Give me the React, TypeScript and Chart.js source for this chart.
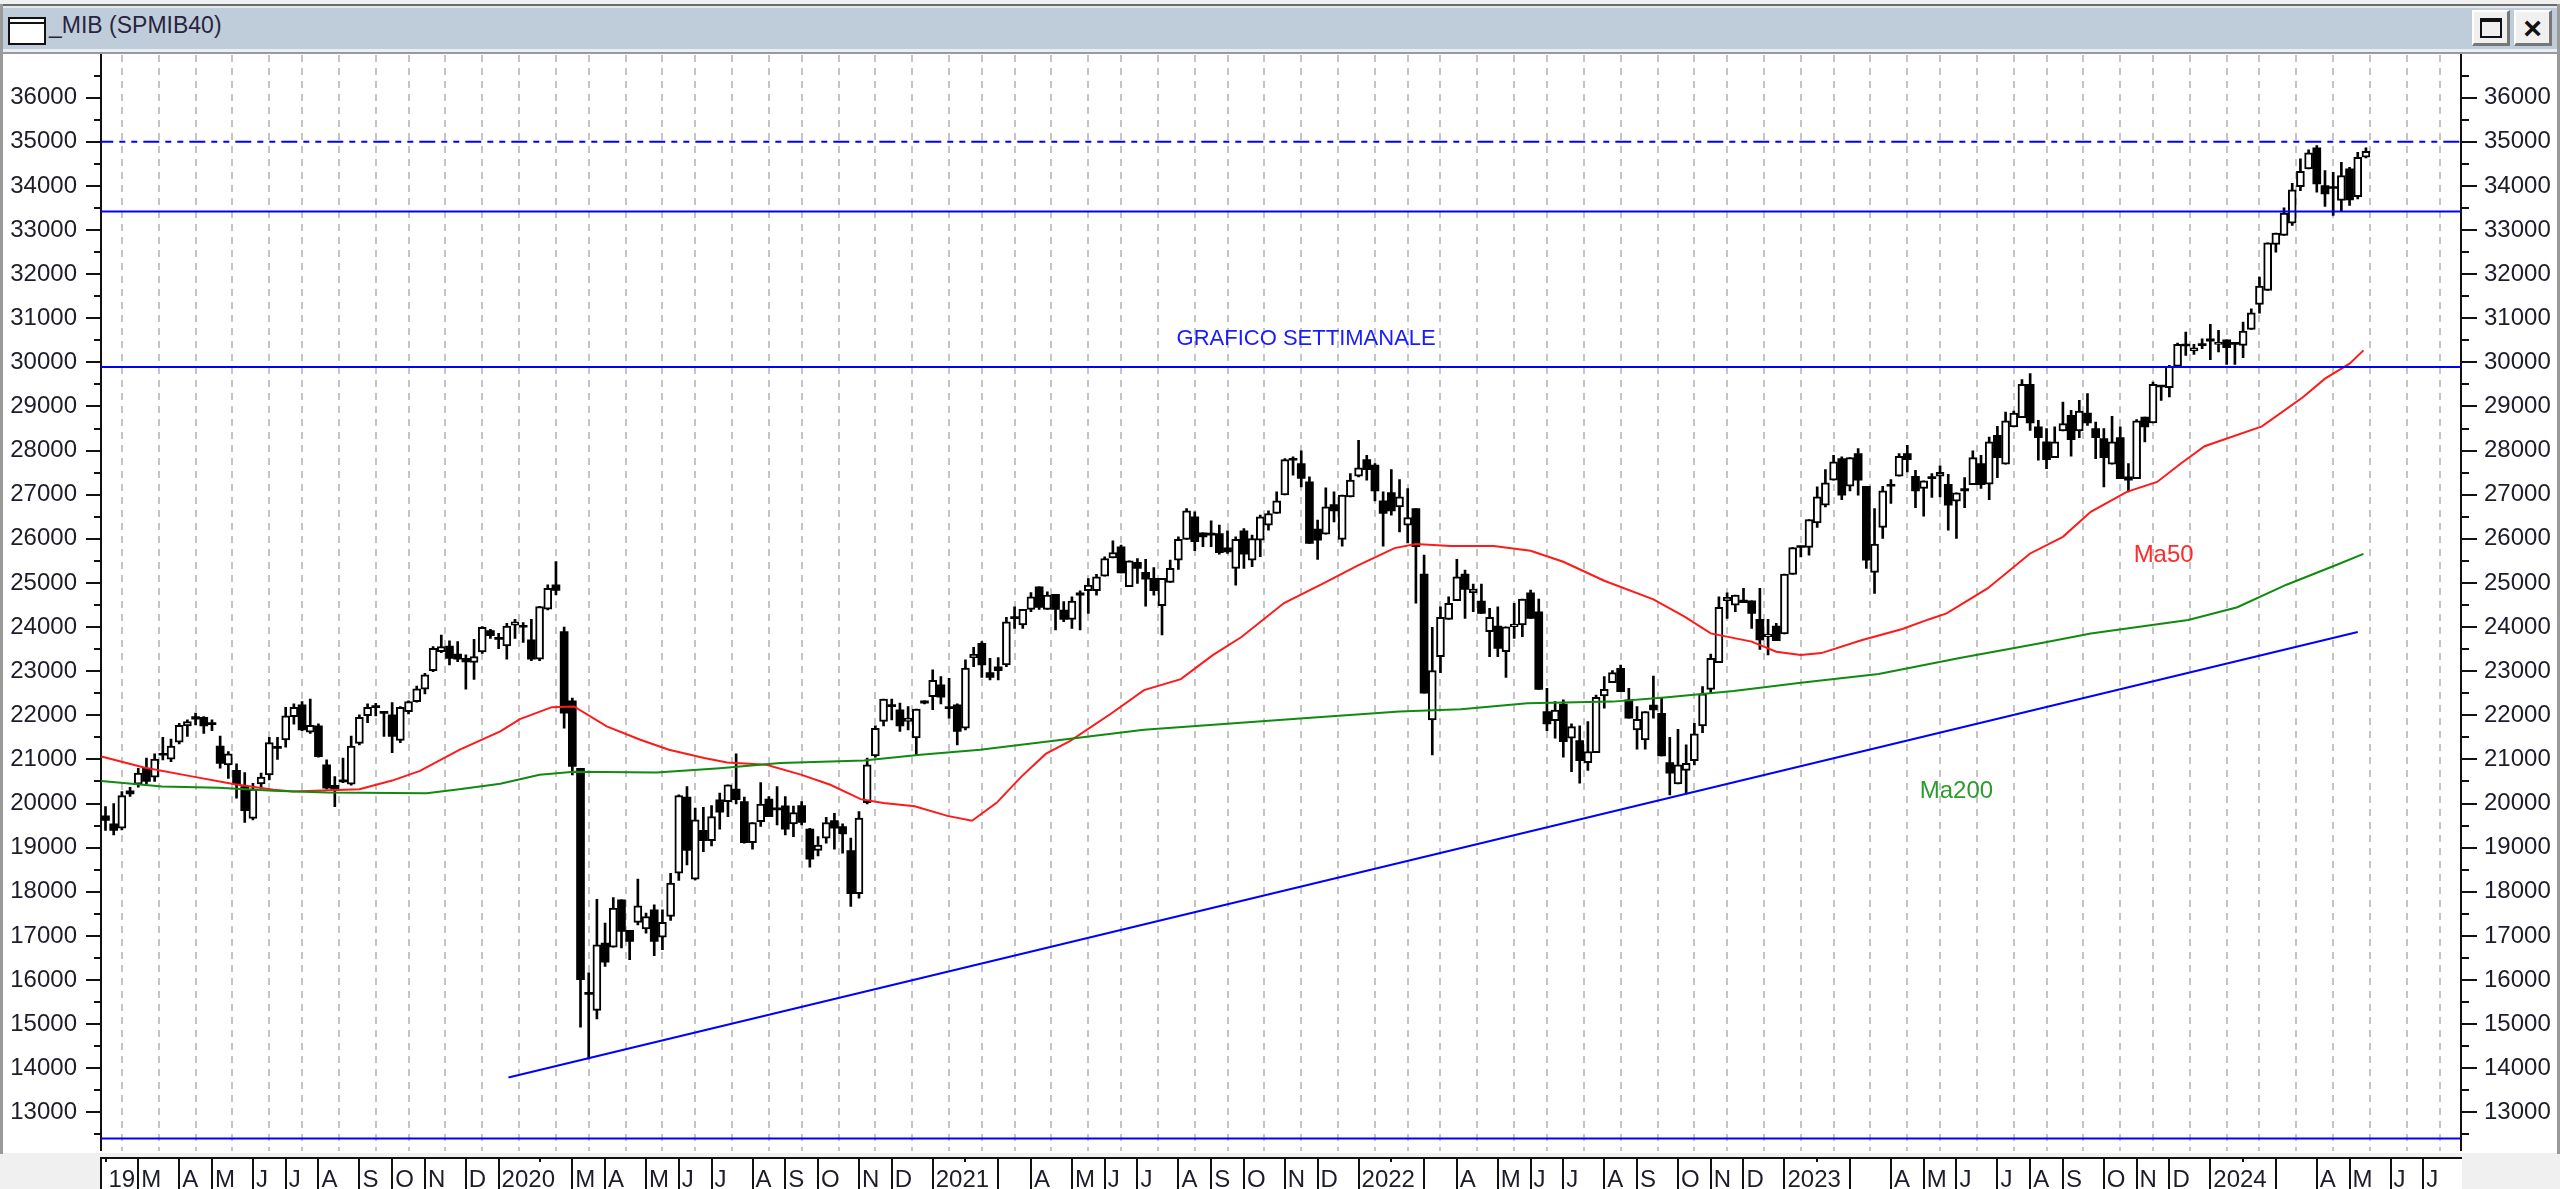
import React, { useEffect, useRef } from "react";
import { Chart, registerables } from "chart.js";

Chart.register(...registerables);

// Weekly candles: [open, high, low, close]
const weeks2019 = [
  [19720,19930,19390,19615],[19540,20000,19290,19390],[19440,20270,19400,20180],[20290,20370,20160,20220],
  [20440,20800,20370,20690],[20800,21030,20445,20500],[20600,21125,20500,21010],[21125,21500,20990,21095],
  [21005,21460,20950,21300],[21390,21820,21350,21770],[21760,21900,21520,21860],[21970,22050,21780,21910],
  [21955,21970,21590,21760],[21820,21895,21650,21790],[21305,21530,20800,20910],[20875,21180,20570,21125],
  [20750,20900,20120,20445],[20385,20700,19570,19840],[19660,20460,19630,20325],[20445,20690,20350,20600],
  [20650,21500,20535,21380],[21290,21500,21000,21250],[21440,22180,21275,21990],[21970,22260,21800,22180],
  [22235,22310,21650,21670],[21615,22370,21590,21775],[21760,21805,21050,21065],[20875,20990,20325,20350],
  [20415,20610,19930,20325],[20510,21030,20475,20490],[20440,21530,20415,21305],[21365,22010,21330,21955],
  [21990,22260,21835,22180],[22195,22270,21985,22175],[22075,22085,21520,22045],[22010,22290,21155,21520],
  [21430,22195,21380,22180],[22085,22330,22030,22310],[22310,22665,22295,22600],[22590,22950,22485,22915],
  [23010,23555,22990,23520],[23440,23820,23420,23555],[23570,23690,23140,23290],[23390,23670,23215,23270],
  [23290,23370,22590,23210],[23200,23720,22815,23330],[23435,24010,23405,23995],[23920,23950,23745,23805],
];
const weeks2020 = [
  [23750,23860,23510,23720],[23570,24085,23270,24025],[24045,24175,23745,24120],[24025,24100,23650,23995],
  [23710,24175,23240,23270],[23272,24470,23240,24465],[24405,24955,24390,24880],[24955,25485,24730,24830],
  [23900,24000,21710,22050],[22330,22390,20650,20840],[20800,20800,14930,16005],[15720,16160,14210,15675],
  [15310,17830,15115,16800],[16835,17290,16310,16405],[16745,17870,16745,17630],[17820,17820,16725,17100],
  [17125,17125,16460,16875],[17305,18285,17250,17680],[17155,17515,17060,17440],[17590,17705,16550,16875],
  [16970,17590,16685,17305],[17440,18420,17350,18195],[18420,20195,18255,20180],[20145,20385,18610,18935],
  [18285,19895,18270,19630],[19390,19915,18910,19160],[19160,19955,19040,19705],[20085,20235,19420,19805],
  [20045,20425,19705,20425],[20325,21125,19990,20085],[20045,20145,19100,19115],[19115,19570,18965,19570],
  [19590,20475,19480,19990],[20100,20160,19705,19705],[19895,20385,19515,19855],[19950,20160,19290,19420],
  [19540,19945,19250,19795],[19955,20045,19515,19570],[19420,19440,18560,18740],[18935,19250,18815,19060],
  [19215,19690,19100,19570],[19615,19780,18965,19440],[19480,19540,18875,19310],[18935,19215,17670,17955],
  [17955,19820,17855,19670],[20020,21030,19990,20875],[21080,21760,21050,21705],[21860,22365,21760,22365],
  [22235,22365,21895,22195],[22125,22275,21635,21760],[21860,22200,21670,21935],[21485,22140,21105,22140],
  [22330,22330,22260,22275],
];
const weeks2021 = [
  [22425,23030,22125,22790],[22690,22880,22260,22410],[22200,22840,21935,22150],[22240,22260,21330,21635],
  [21710,23255,21670,23070],[23306,23540,23100,23380],[23630,23670,22860,23140],[22967,23290,22800,22861],
  [23100,23310,22800,23012],[23140,24220,23100,24120],[24220,24460,23970,24190],[24046,24400,23970,24400],
  [24400,24780,24350,24687],[24914,24914,24400,24446],[24400,24800,24400,24725],[24740,24740,23933,24400],
  [24385,24575,24120,24175],[24175,24687,23970,24590],[24778,24823,23933,24725],[24823,25100,24310,24952],
  [24823,25193,24725,25140],[25155,25593,25155,25555],[25570,25955,25570,25690],[25820,25857,25230,25230],
  [24914,25500,24914,25500],[25465,25555,24990,25330],[25238,25533,24476,25087],[25103,25350,24725,24823],
  [24484,25103,23820,25103],[25012,25518,25012,25330],[25518,26046,25306,25986],[25986,26687,25986,26635],
  [26499,26612,25729,25933],[26136,26136,25820,26046],[26120,26408,25820,26083],[26120,26310,25654,25684],
  [25797,26182,25669,25706],[25329,26046,24952,25986],[26182,26235,25329,25653],[25518,26084,25367,26008],
  [25970,26536,25593,26499],[26310,26635,26197,26574],[26574,27065,26574,26861],[26997,27820,26997,27797],
  [27812,27857,27442,27782],[27706,27993,27178,27367],[27291,27404,25895,25895],[26220,26423,25533,25970],
  [26106,27155,26106,26725],[26778,27065,26386,26635],[25986,26989,25835,26989],[26952,27480,26952,27329],
];
const weeks2022 = [
  [27420,28235,27404,27608],[27797,27895,27329,27570],[27669,27706,26861,27087],[26861,27065,25835,26574],
  [27050,27570,26536,26635],[26725,27344,26159,26952],[26310,27140,25910,26484],[26687,26687,24540,25820],
  [25200,25630,22500,22500],[21895,23993,21103,23012],[23329,24460,22966,24220],[24174,24687,24174,24536],
  [24597,25533,24597,25140],[25200,25291,24197,24853],[24778,24974,24348,24860],[24589,24974,24310,24310],
  [23895,24423,23329,24219],[24023,24460,23329,23517],[23442,24008,22861,24008],[24008,24536,23744,24068],
  [24046,24634,23781,24634],[24778,24838,24197,24197],[24348,24634,22589,22589],[22084,22612,21653,21804],
  [21880,22310,21480,22121],[22257,22348,21050,21404],[21480,21804,20725,21744],[21427,21759,20460,20974],
  [20929,21857,20748,21178],[21155,22461,21155,22408],[22438,22876,22159,22589],[22740,23012,22740,22966],
  [23065,23140,22536,22536],[22348,22612,21933,21933],[21668,22197,21230,21910],[21442,22084,21230,22084],
  [22234,22891,21933,22121],[22046,22386,21080,21080],[20929,21503,20197,20687],[20446,21683,20446,20876],
  [20748,21329,20220,20914],[20974,21820,20876,21578],[21759,22650,21608,22484],[22589,23389,22514,23291],
  [23193,24687,23193,24446],[24597,24778,24197,24672],[24499,24725,24348,24725],[24612,24876,24551,24551],
  [24597,24597,23970,24310],[24174,24876,23495,23706],[23782,24174,23367,23842],[24023,24084,23691,23691],
];
const weeks2023 = [
  [23842,25200,23842,25200],[25192,25804,25192,25804],[25834,25834,25592,25804],[25804,26438,25630,26438],
  [26362,27177,26257,26951],[26762,27570,26725,27268],[27328,27894,27328,27743],[27819,27857,26890,26989],
  [27192,27841,27087,27841],[27932,28045,26989,27328],[27192,27192,25328,25517],[25238,26687,24762,25879],
  [26257,27192,26008,27087],[27238,27343,26800,27192],[27419,27932,27419,27872],[27932,28121,27517,27796],
  [27419,27555,26709,27087],[27140,27313,26513,27313],[27404,27479,26936,27366],[27419,27653,26951,27509],
  [27238,27464,26196,26762],[26853,27041,26008,27041],[27140,27389,26709,27087],[27230,27992,27230,27841],
  [27706,27894,27140,27230],[27238,28309,26890,28196],[28347,28551,27389,27841],[27690,28875,27690,28672],
  [28536,28898,28536,28853],[28747,29607,28747,29502],[29502,29743,28460,28626],[28536,28687,27781,28294],
  [28196,28498,27592,27796],[27841,28536,27841,28196],[28445,29102,28445,28611],[28800,28913,27872,28249],
  [28445,29140,28294,28898],[28853,29290,28573,28626],[28498,28649,27819,28294],[28272,28498,27177,27841],
  [27690,28777,27690,28196],[28294,28536,27366,27366],[27404,27706,27064,27328],[27366,28702,27366,28672],
  [28762,28762,28196,28536],[28626,29555,28626,29502],[29479,29479,29140,29441],[29426,29932,29215,29909],
  [29909,30438,29909,30407],[30407,30687,30158,30370],[30257,30407,30180,30332],[30405,30536,30309,30380],
];
const weeks2024 = [
  [30536,30860,30060,30483],[30407,30724,30234,30460],[30513,30513,29955,30332],[30438,30438,29955,30407],
  [30385,30913,30105,30709],[30747,31215,30747,31124],[31313,31932,31117,31728],[31630,32709,31630,32709],
  [32671,32928,32498,32928],[32875,33502,32875,33381],[33155,34060,33102,33909],[33985,34611,33894,34332],
  [34385,34815,34385,34747],[34860,34913,33856,34045],[34007,34347,33532,33819],[33970,34309,33328,33940],
  [33668,34535,33426,34234],[34385,34422,33555,33683],[33758,34762,33705,34649],[34649,34860,34634,34785],
];

// Moving averages: [week, value]
const ma50 = [
  [-0.5,21065],[4.7,20815],[10.7,20610],[15.6,20445],[20.5,20310],[22.9,20270],[31,20325],[35,20520],[38.4,20740],
  [43.2,21215],[48.2,21634],[50.6,21914],[54.5,22185],[57.2,22200],[61.2,21750],[65.3,21445],[68.8,21220],[73.1,21030],
  [75.9,20930],[80.7,20880],[85,20650],[88.5,20425],[92.2,20100],[95,20010],[98.8,19940],[102.8,19720],[105.8,19610],
  [108.8,20015],[111.8,20605],[114.8,21125],[117.8,21420],[122.8,22040],[126.8,22570],[131.3,22820],[135.2,23365],
  [138.7,23775],[143.9,24545],[148.7,24990],[153,25405],[157.4,25790],[160,25880],[164.2,25835],[169.5,25835],
  [174,25730],[178,25480],[183,25050],[189,24627],[192.8,24235],[196,23857],[201,23670],[204,23440],[207,23365],
  [209.5,23410],[214.5,23705],[219.4,23955],[222.6,24173],[224.8,24310],[229.8,24875],[235,25668],[239,26045],
  [242.4,26611],[246.8,27064],[250.5,27290],[253.4,27706],[256.3,28100],[263.3,28550],[268.3,29210],[271,29630],
  [274,29970],[275.7,30272],
];
const ma200 = [
  [-0.5,20513],[6.9,20385],[13.8,20360],[20.5,20287],[27,20250],[39.2,20234],[43.2,20325],[48.2,20449],[53,20653],
  [57.2,20720],[67.3,20705],[75,20800],[82.4,20917],[92.6,20977],[99.5,21105],[106.8,21220],[126.8,21670],[146.7,21940],
  [158,22084],[165.5,22136],[173.6,22272],[184,22310],[190.7,22408],[198.8,22552],[207,22740],[216.5,22936],[226.4,23300],
  [236.4,23640],[242.4,23855],[254.3,24160],[260.3,24450],[266.3,24960],[272.3,25400],[275.7,25660],
];
const trendLine = [[49.2,13790],[275,23890]];

// Horizontal levels
const levelSolid = [33420, 29896, 12410];
const levelDashed = 35000;

// Axes
const priceTicks = [13000,14000,15000,16000,17000,18000,19000,20000,21000,22000,23000,24000,25000,26000,27000,28000,29000,30000,31000,32000,33000,34000,35000,36000];
const monthWeeks = [0,4,9,13,18,22,26,31,35,39,44,48,53,57,61,66,70,74,79,83,87,92,96,101,105,109,113,118,122,126,131,135,139,144,148,153,157,161,165,170,174,178,183,187,192,196,200,205,209,213,218,222,226,231,235,239,244,248,252,257,261,265,270,274,279,283];
const monthLabels = ["19","M","A","M","J","J","A","S","O","N","D","2020",null,"M","A","M","J","J","A","S","O","N","D","2021",null,"","A","M","J","J","A","S","O","N","D","2022",null,"","A","M","J","J","A","S","O","N","D","2023",null,"","A","M","J","J","A","S","O","N","D","2024",null,"","A","M","J","J"];

// Notes written on the chart: text, week, value, colour
const notes: [string, number, number, string][] = [
  ["GRAFICO SETTIMANALE", 146.6, 30530, "#1a1aff"],
  ["Ma50", 251.3, 25631, "#ff2a2a"],
  ["Ma200", 226, 20280, "#2e9a2e"],
];

const TEXT = "#1c1c2a";
const FONT = '"Liberation Sans", Arial, sans-serif';
const PLOT = { left: 101, right: 2461, top: 55, bottom: 1152 };

const weekly = [...weeks2019, ...weeks2020, ...weeks2021, ...weeks2022, ...weeks2023, ...weeks2024];
const xy = (rows: number[][]) => rows.map(([x, y]) => ({ x, y }));
const setPriceTicks = (s: any) => { s.ticks = priceTicks.map((value) => ({ value })); };

const chrome = {
  id: "chrome",
  beforeDraw(chart: any) {
    const { ctx } = chart;
    ctx.save();
    ctx.fillStyle = "#ffffff";
    ctx.fillRect(0, 0, 2560, 1189);
    ctx.fillStyle = "#f0f0f0";
    ctx.fillRect(0, 1153, 2560, 36);
    ctx.fillStyle = "#ffffff";
    ctx.fillRect(PLOT.left - 1, 1158, PLOT.right - PLOT.left + 2, 31);
    ctx.restore();
  },
  afterDatasetsDraw(chart: any) {
    const { ctx, scales } = chart;
    ctx.save();
    ctx.textBaseline = "middle";
    ctx.textAlign = "center";
    for (const [text, w, v, color] of notes) {
      ctx.font = `${text.length > 6 ? 22 : 24}px ${FONT}`;
      ctx.fillStyle = color;
      ctx.fillText(text, scales.x.getPixelForValue(w), scales.y.getPixelForValue(v));
    }
    ctx.restore();
  },
  afterDraw(chart: any) {
    const { ctx, scales } = chart;
    ctx.save();
    ctx.strokeStyle = "#111111";
    ctx.lineWidth = 2;
    const seg = (a: number, b: number, c: number, d: number) => {
      ctx.beginPath();
      ctx.moveTo(a, b);
      ctx.lineTo(c, d);
      ctx.stroke();
    };
    // price ticks on both sides
    const low = Math.ceil(scales.y.min / 500) * 500;
    for (let v = low; v <= scales.y.max; v += 500) {
      const p = Math.round(scales.y.getPixelForValue(v));
      const major = v % 1000 === 0;
      seg(PLOT.left - (major ? 15 : 7), p, PLOT.left, p);
      seg(PLOT.right, p, PLOT.right + (major ? 16 : 8), p);
    }
    // month boxes under the plot
    seg(PLOT.left - 1, 1158, PLOT.right + 1, 1158);
    seg(PLOT.left, 1158, PLOT.left, 1189);
    monthWeeks.forEach((w, i) => {
      const p = Math.round(scales.x.getPixelForValue(w));
      if (monthLabels[i] === null || i === 0) seg(p, 1158, p, 1162);
      else seg(p, 1158, p, 1189);
    });
    ctx.restore();
  },
};

export default function App() {
  const ref = useRef<HTMLCanvasElement>(null);
  useEffect(() => {
    const cfg: any = {
      type: "bar",
      data: {
        datasets: [
          ...levelSolid.map((v) => ({
            type: "line", data: [{ x: -1, y: v }, { x: 288, y: v }], borderColor: "#0000ff", borderWidth: 2,
            pointRadius: 0, order: 1,
          })),
          {
            type: "line", data: [{ x: -1, y: levelDashed }, { x: 288, y: levelDashed }], borderColor: "#0000ff",
            borderWidth: 2, borderDash: [16, 6, 6, 6, 6, 6], pointRadius: 0, order: 1,
          },
          { type: "line", data: xy(trendLine), borderColor: "#0000ff", borderWidth: 2, pointRadius: 0, order: 1 },
          { type: "line", data: xy(ma200), borderColor: "#108a10", borderWidth: 2, pointRadius: 0, order: 2 },
          { type: "line", data: xy(ma50), borderColor: "#ff1a1a", borderWidth: 2, pointRadius: 0, order: 2 },
          {
            data: weekly.map(([o, h, l, c], i) => (c < o ? { x: i, y: [c, o] } : null)).filter(Boolean),
            backgroundColor: "#000000", borderColor: "#000000", borderWidth: 0, borderSkipped: false,
            barThickness: 8, grouped: false, order: 3, minBarLength: 2,
          },
          {
            data: weekly.map(([o, h, l, c], i) => (c >= o ? { x: i, y: [o, c] } : null)).filter(Boolean),
            backgroundColor: "#ffffff", borderColor: "#000000", borderWidth: 2, borderSkipped: false,
            barThickness: 8, grouped: false, order: 3,
          },
          {
            data: weekly.map(([o, h, l, c], i) => ({ x: i, y: [l, h] })),
            backgroundColor: "#000000", borderWidth: 0, barThickness: 2, grouped: false, order: 4,
          },
        ],
      },
      options: {
        responsive: false,
        animation: false,
        devicePixelRatio: 1,
        layout: { padding: { top: PLOT.top } },
        plugins: { legend: { display: false }, tooltip: { enabled: false }, title: { display: false } },
        scales: {
          x: {
            type: "linear",
            offset: false,
            min: (PLOT.left - 105.5) / 8.19,
            max: (PLOT.right - 105.5) / 8.19,
            afterFit: (s: any) => { s.height = 1189 - PLOT.bottom; },
            afterBuildTicks: (s: any) => { s.ticks = monthWeeks.map((value) => ({ value })); },
            border: { display: false, dash: [7, 6] },
            grid: { color: "#c4c4c4", lineWidth: 2, drawTicks: false },
            ticks: {
              autoSkip: false, maxRotation: 0, minRotation: 0, align: "start", padding: 15,
              labelOffset: (c: any) => (c.index === 0 ? -2 : 3),
              color: TEXT, font: { family: FONT, size: 24 },
              callback: (v: number) => monthLabels[monthWeeks.indexOf(v)] ?? "",
            },
          },
          y: {
            position: "left",
            min: 12133,
            max: 36967,
            afterFit: (s: any) => { s.width = PLOT.left; },
            afterBuildTicks: setPriceTicks,
            border: { color: "#111111", width: 2 },
            grid: { display: false, drawTicks: false },
            ticks: {
              padding: 24, color: TEXT, font: { family: FONT, size: 24 },
              callback: (v: number) => String(v),
            },
          },
          y2: {
            position: "right",
            min: 12133,
            max: 36967,
            afterFit: (s: any) => { s.width = 2560 - PLOT.right; },
            afterBuildTicks: setPriceTicks,
            border: { color: "#111111", width: 2 },
            grid: { display: false, drawTicks: false },
            ticks: {
              padding: 23, color: TEXT, font: { family: FONT, size: 24 },
              callback: (v: number) => String(v),
            },
          },
        },
      },
      plugins: [chrome],
    };
    const chart = new Chart(ref.current as HTMLCanvasElement, cfg);
    return () => chart.destroy();
  }, []);

  const btn = (left: number, child: React.ReactNode) => (
    <div style={{
      position: "absolute", left, top: 10, width: 38, height: 36, boxSizing: "border-box", background: "#f0f0f0",
      borderTop: "2px solid #fff", borderLeft: "2px solid #fff", borderRight: "3px solid #777", borderBottom: "3px solid #777",
    }}>{child}</div>
  );

  return (
    <div style={{ position: "absolute", left: 0, top: 0, width: 2560, height: 1189, overflow: "hidden", background: "#fff" }}>
      <canvas ref={ref} width={2560} height={1189} style={{ position: "absolute", left: 0, top: 0, display: "block" }} />
      <div style={{ position: "absolute", left: 0, top: 0, width: 2560, height: 5, background: "#f0f0f0" }} />
      <div style={{ position: "absolute", left: 0, top: 4, width: 2560, height: 2, background: "#6b6b6b" }} />
      <div style={{ position: "absolute", left: 0, top: 6, width: 2560, height: 2, background: "#e4e8ec" }} />
      <div style={{ position: "absolute", left: 3, top: 8, width: 2554, height: 41, background: "#bfcddb" }} />
      <div style={{ position: "absolute", left: 0, top: 49, width: 2560, height: 3, background: "#e8eef3" }} />
      <div style={{ position: "absolute", left: 0, top: 52, width: 2560, height: 2, background: "#9a9a9a" }} />
      <div style={{ position: "absolute", left: 0, top: 4, width: 3, height: 1150, background: "#9a9a9a" }} />
      <div style={{ position: "absolute", left: 2557, top: 4, width: 3, height: 1150, background: "#9a9a9a" }} />
      <div style={{ position: "absolute", left: 8, top: 17, width: 38, height: 28, boxSizing: "border-box", border: "2px solid #111", background: "#fff" }}>
        <div style={{ height: 3, borderBottom: "2px solid #111" }} />
      </div>
      <div style={{ position: "absolute", left: 49, top: 10, font: `23px ${FONT}`, color: "#2a2440", lineHeight: "30px", whiteSpace: "nowrap" }}>_MIB (SPMIB40)</div>
      {btn(2472, <div style={{ position: "absolute", left: 6, top: 6, width: 22, height: 20, boxSizing: "border-box", border: "2px solid #111", borderTop: "4px solid #111", background: "#f0f0f0" }} />)}
      {btn(2514, <div style={{ position: "absolute", left: 0, top: 1, width: 33, textAlign: "center", font: `bold 32px ${FONT}`, lineHeight: "30px", color: "#111" }}>×</div>)}
    </div>
  );
}
